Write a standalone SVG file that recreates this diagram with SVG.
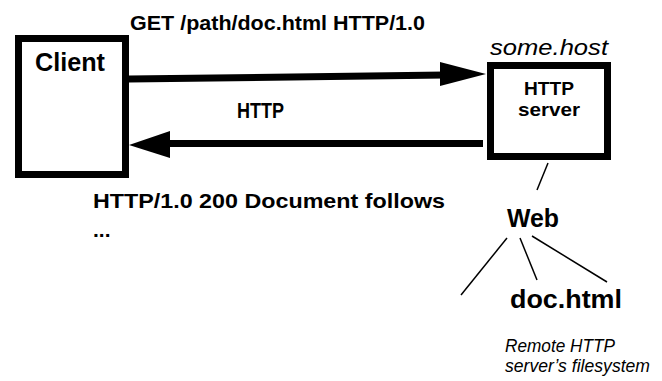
<svg xmlns="http://www.w3.org/2000/svg" width="662" height="381" viewBox="0 0 662 381">
<style>
.b{font-family:"Liberation Sans",Arial,sans-serif;font-weight:bold;fill:#000}
.i{font-family:"Liberation Sans",Arial,sans-serif;font-style:italic;fill:#000}
.box{fill:#fff;stroke:#000;stroke-width:7}
.thin{stroke:#000;stroke-width:1.5;fill:none}
.thick{stroke:#000;stroke-width:7;fill:none}
</style>
<rect width="662" height="381" fill="#fff"/>
<g id="connectors">
<line class="thick" x1="129" y1="79" x2="445" y2="75"/>
<polygon points="486,74 440,62 440,86" fill="#000"/>
<line class="thick" x1="483" y1="143.5" x2="165" y2="143.5"/>
<polygon points="129,145 170,131 170,158" fill="#000"/>
<line class="thin" x1="548" y1="163" x2="537" y2="190"/>
<line class="thin" x1="507" y1="238" x2="461" y2="295"/>
<line class="thin" x1="520" y1="238" x2="537" y2="280"/>
<line class="thin" x1="532" y1="236" x2="607" y2="282"/>
</g>
<g id="client">
<rect class="box" x="18.5" y="38.5" width="107" height="136"/>
<text class="b" x="35" y="71" font-size="25" textLength="70" lengthAdjust="spacingAndGlyphs">Client</text>
</g>
<g id="server">
<text class="i" x="490" y="55" font-size="22" textLength="118" lengthAdjust="spacingAndGlyphs">some.host</text>
<rect class="box" x="490.5" y="65.5" width="117" height="91"/>
<text class="b" x="549" y="95" font-size="19" text-anchor="middle" textLength="50" lengthAdjust="spacingAndGlyphs">HTTP</text>
<text class="b" x="549" y="116" font-size="19" text-anchor="middle" textLength="62" lengthAdjust="spacingAndGlyphs">server</text>
</g>
<g id="labels">
<text class="b" x="130" y="30" font-size="21" textLength="295" lengthAdjust="spacingAndGlyphs">GET /path/doc.html HTTP/1.0</text>
<text class="b" x="237" y="118" font-size="22" textLength="47" lengthAdjust="spacingAndGlyphs">HTTP</text>
<text class="b" x="93" y="208" font-size="21" textLength="352" lengthAdjust="spacingAndGlyphs">HTTP/1.0 200 Document follows</text>
<text class="b" x="93" y="237" font-size="21">...</text>
</g>
<g id="web">
<text class="b" x="507" y="227" font-size="25" textLength="52" lengthAdjust="spacingAndGlyphs">Web</text>
</g>
<g id="doc">
<text class="b" x="510" y="308" font-size="26" textLength="112" lengthAdjust="spacingAndGlyphs">doc.html</text>
</g>
<g id="filesystem">
<text class="i" x="505" y="352" font-size="17.5" textLength="110" lengthAdjust="spacingAndGlyphs">Remote HTTP</text>
<text class="i" x="505" y="372" font-size="17.5" textLength="145" lengthAdjust="spacingAndGlyphs">server’s filesystem</text>
</g>
</svg>
